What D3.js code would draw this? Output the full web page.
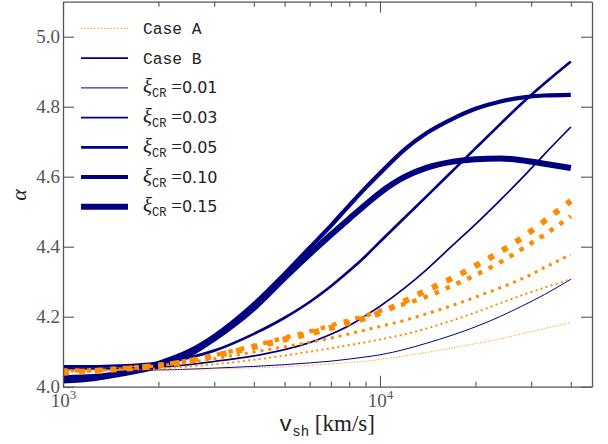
<!DOCTYPE html>
<html>
<head>
<meta charset="utf-8">
<script src="https://cdn.jsdelivr.net/npm/d3@7"></script>
<style>
  html, body { margin: 0; padding: 0; background: #fff; }
  svg { display: block; }
</style>
</head>
<body>
<svg id="chart" width="608" height="444"></svg>
<script>
// ---- data ----
const vsh = [1000,1250,1500,2000,2500,3000,4000,5000,6000,7000,8000,9000,10000,12000,14000,17000,20000,24000,28000,33000,40000];

// Case B (solid navy)
const caseB_001 = [4.050,4.049,4.048,4.048,4.050,4.053,4.058,4.063,4.068,4.073,4.079,4.085,4.091,4.107,4.124,4.148,4.171,4.201,4.230,4.263,4.307];
const caseB_003 = [4.054,4.053,4.053,4.056,4.063,4.072,4.088,4.106,4.126,4.150,4.175,4.203,4.230,4.283,4.334,4.405,4.464,4.534,4.595,4.664,4.742];
const caseB_005 = [4.058,4.058,4.060,4.068,4.083,4.103,4.151,4.197,4.242,4.287,4.331,4.373,4.414,4.484,4.543,4.618,4.681,4.751,4.809,4.866,4.929];
const caseB_010 = [4.027,4.030,4.040,4.068,4.102,4.145,4.236,4.322,4.397,4.460,4.518,4.568,4.610,4.679,4.724,4.766,4.794,4.815,4.826,4.832,4.834];
const caseB_015 = [4.018,4.024,4.036,4.060,4.093,4.138,4.225,4.311,4.379,4.434,4.480,4.520,4.554,4.600,4.625,4.643,4.650,4.652,4.647,4.637,4.625];

// Case A (dotted orange)
const caseA_001 = [4.048,4.048,4.048,4.049,4.050,4.051,4.054,4.057,4.061,4.065,4.069,4.073,4.078,4.088,4.098,4.111,4.123,4.137,4.151,4.166,4.183];
const caseA_003 = [4.047,4.047,4.048,4.052,4.058,4.064,4.077,4.089,4.100,4.110,4.119,4.127,4.135,4.150,4.166,4.190,4.212,4.239,4.261,4.283,4.307];
const caseA_005 = [4.045,4.046,4.050,4.060,4.070,4.080,4.099,4.114,4.127,4.139,4.151,4.162,4.172,4.190,4.208,4.233,4.256,4.283,4.308,4.340,4.378];
const caseA_010 = [4.046,4.047,4.052,4.062,4.075,4.090,4.117,4.140,4.158,4.175,4.190,4.203,4.217,4.237,4.257,4.290,4.319,4.356,4.393,4.434,4.487];
const caseA_015 = [4.040,4.045,4.050,4.060,4.073,4.088,4.113,4.135,4.152,4.168,4.183,4.196,4.211,4.245,4.275,4.311,4.345,4.386,4.425,4.473,4.531];

const xiValues = ["0.01","0.03","0.05","0.10","0.15"];
const yTicks = [4.0,4.2,4.4,4.6,4.8,5.0];
const xMajorTicks = [1e3,1e4];
const xMinorTicks = [2e3,3e3,4e3,5e3,6e3,7e3,8e3,9e3,2e4,3e4,4e4];
const legendLabels = ["Case A","Case B"];

// ---- styling ----
const navy = "#000080", orange = "#ff8c00";
const lwB = [1.0, 1.7, 2.7, 4.2, 6.0];
const lwA = [1.0, 2.0, 3.0, 4.5, 6.0];
const caseB = [caseB_001, caseB_003, caseB_005, caseB_010, caseB_015];
const caseA = [caseA_001, caseA_003, caseA_005, caseA_010, caseA_015];

const svg = d3.select("#chart");
const L = 63, R = 592, T = 1.7, B = 386.7;

const x = d3.scaleLog().domain([1000, 46650]).range([L, R]);
const y = d3.scaleLinear().domain([4.0, 5.1]).range([B, T]);

svg.append("defs").append("clipPath").attr("id","clip")
  .append("rect").attr("x",L).attr("y",T).attr("width",R-L).attr("height",B-T);

const line = d3.line().x(d => x(d[0])).y(d => y(d[1])).curve(d3.curveMonotoneX);
const plot = svg.append("g").attr("clip-path","url(#clip)");

// navy solid (Case B)
caseB.forEach((arr,i) => {
  plot.append("path")
    .datum(vsh.map((v,k)=>[v,arr[k]]))
    .attr("d", line).attr("fill","none")
    .attr("stroke", navy).attr("stroke-width", lwB[i]);
});
// orange dotted (Case A)
caseA.forEach((arr,i) => {
  const w = lwA[i];
  plot.append("path")
    .datum(vsh.map((v,k)=>[v,arr[k]]))
    .attr("d", line).attr("fill","none")
    .attr("stroke", orange).attr("stroke-width", w)
    .attr("stroke-dasharray", `${w},${(1.65*w).toFixed(2)}`)
    .attr("stroke-linecap","butt");
});

// ---- axes ----
const axisColor = "#555";
const serif = "'Liberation Serif', 'DejaVu Serif', serif";
const mono = "'Liberation Mono', 'DejaVu Sans Mono', monospace";

function styleAxis(g) {
  g.selectAll("path.domain").attr("stroke", axisColor).attr("stroke-width", 1.3);
  g.selectAll(".tick line").attr("stroke", axisColor).attr("stroke-width", 1.1);
  g.selectAll(".tick text").attr("fill", axisColor).style("font-family", serif).style("font-size","19px");
}

// bottom major
const gxB = svg.append("g").attr("transform",`translate(0,${B})`)
  .call(d3.axisBottom(x).tickValues(xMajorTicks).tickSizeInner(-11).tickSizeOuter(0).tickPadding(5).tickFormat(""));
gxB.call(styleAxis);
gxB.selectAll(".tick text").each(function(d){
  const t = d3.select(this);
  t.text(null).attr("dy", null).attr("y", 20);
  t.append("tspan").text("10");
  t.append("tspan").attr("dy", -8).style("font-size","13px").text(String(Math.round(Math.log10(d))));
});
// bottom minor
svg.append("g").attr("transform",`translate(0,${B})`)
  .call(d3.axisBottom(x).tickValues(xMinorTicks).tickSizeInner(-5).tickSizeOuter(0).tickFormat(""))
  .call(styleAxis).select("path.domain").remove();
// top
svg.append("g").attr("transform",`translate(0,${T})`)
  .call(d3.axisTop(x).tickValues(xMajorTicks).tickSizeInner(-11).tickSizeOuter(0).tickFormat(""))
  .call(styleAxis);
svg.append("g").attr("transform",`translate(0,${T})`)
  .call(d3.axisTop(x).tickValues(xMinorTicks).tickSizeInner(-5).tickSizeOuter(0).tickFormat(""))
  .call(styleAxis).select("path.domain").remove();
// left
svg.append("g").attr("transform",`translate(${L},0)`)
  .call(d3.axisLeft(y).tickValues(yTicks).tickSizeInner(-11).tickSizeOuter(0).tickPadding(3).tickFormat(d3.format(".1f")))
  .call(styleAxis);
// right
svg.append("g").attr("transform",`translate(${R},0)`)
  .call(d3.axisRight(y).tickValues(yTicks).tickSizeInner(-11).tickSizeOuter(0).tickFormat(""))
  .call(styleAxis);

// axis labels
const xl = svg.append("text").attr("x", 327).attr("y", 431).attr("text-anchor","middle").attr("fill","#222");
xl.append("tspan").style("font-family", mono).style("font-size","22px").text("v");
xl.append("tspan").attr("dy",5).style("font-family", mono).style("font-size","14px").text("sh");
xl.append("tspan").attr("dy",-5).style("font-family", serif).style("font-size","23px").text("\u00a0[km/s]");

svg.append("text").attr("transform","translate(26,195) rotate(-90)")
  .attr("text-anchor","middle").attr("fill","#222")
  .style("font-family", serif).style("font-style","italic").style("font-size","22px").text("α");

// ---- legend ----
const legX0 = 81, legX1 = 128, legTX = 143, legY0 = 28.5, legDY = 29.7;
const leg = svg.append("g");
const entries = [
  {kind:"A", w:1.2},
  {kind:"B", w:1.8},
  ...xiValues.map((v,i)=>({kind:"xi", w:lwB[i], val:v}))
];
entries.forEach((e,i) => {
  const yy = legY0 + i*legDY;
  const ln = leg.append("line").attr("x1",legX0).attr("x2",legX1).attr("y1",yy).attr("y2",yy)
    .attr("stroke-width", e.w);
  if (e.kind === "A") ln.attr("stroke", orange).attr("stroke-dasharray","1.2,2.1");
  else ln.attr("stroke", navy);
  const t = leg.append("text").attr("x", legTX).attr("y", yy + 5.5).attr("fill","#222");
  if (e.kind === "A" || e.kind === "B") {
    t.style("font-family", mono).style("font-size","16.3px").text(legendLabels[i]);
  } else {
    t.append("tspan").style("font-family", serif).style("font-style","italic").style("font-size","21px").text("ξ");
    t.append("tspan").attr("dy",4).style("font-family", mono).style("font-size","12px").text("CR");
    t.append("tspan").attr("dy",-4).style("font-family", serif).style("font-size","19px").text("\u00a0=");
    t.append("tspan").style("font-family","'DejaVu Sans', sans-serif").style("font-size","16px").text(e.val);
  }
});
</script>
</body>
</html>
